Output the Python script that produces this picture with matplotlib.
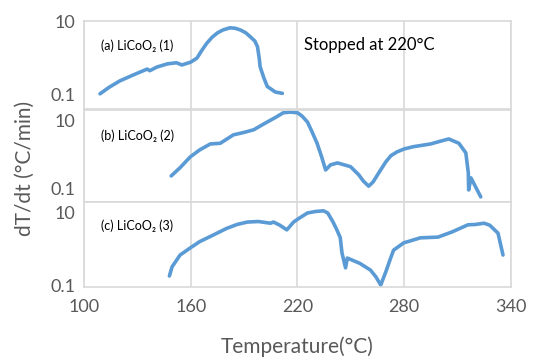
import numpy as np
import matplotlib
matplotlib.use('Agg')
import matplotlib.pyplot as plt

plt.rcParams['font.family'] = ['Lato', 'DejaVu Sans']

# (a) LiCoO2 (1): stopped at 220 C
t_a = [109, 114, 120, 127, 135.5, 137, 141, 147, 152, 155, 160, 163.5, 166,
       169, 172, 175, 178, 182, 185, 188, 191, 193.5, 196, 197.5, 198.5, 199,
       201, 203, 207.5, 211.5]
r_a = [0.107, 0.16, 0.24, 0.34, 0.51, 0.46, 0.58, 0.71, 0.76, 0.66, 0.79,
       1.02, 1.6, 2.6, 3.8, 5.0, 6.0, 6.9, 6.7, 6.0, 5.0, 3.9, 3.0, 2.1, 1.0,
       0.59, 0.3, 0.17, 0.12, 0.11]

# (b) LiCoO2 (2)
t_b = [149, 154, 159.7, 165, 171, 176.6, 184, 190, 195.4, 202, 208, 212, 216,
       220, 222.5, 225.6, 228, 231, 233.5, 235.8, 238.6, 242.5, 249.8, 254.4,
       257, 260, 262.5, 265, 269.6, 272.5, 276, 280, 285, 294.8, 300, 305,
       310.7, 314.6, 316, 316.2, 317.5, 323]
r_b = [0.24, 0.42, 0.87, 1.4, 2.1, 2.2, 3.9, 4.6, 5.5, 8.7, 13, 17.4, 18.2,
       17.4, 14, 9.3, 5, 2.2, 0.9, 0.36, 0.51, 0.58, 0.45, 0.26, 0.17, 0.12,
       0.16, 0.26, 0.62, 0.95, 1.23, 1.5, 1.74, 2.1, 2.5, 2.95, 2.2, 1.15,
       0.30, 0.093, 0.21, 0.058]

# (c) LiCoO2 (3)
t_c = [148, 149.5, 154, 159.7, 165, 172.7, 180, 186, 191.8, 198, 204.8, 206.5,
       210, 214, 217.8, 221, 225.6, 230, 234.6, 237, 240, 242, 244, 245, 247,
       248, 255, 261, 264, 266.8, 269.6, 272, 274, 279.7, 289, 299, 307,
       315.8, 320, 324.8, 328, 332.7, 335.5]
r_c = [0.178, 0.32, 0.68, 1.07, 1.6, 2.45, 3.7, 4.8, 5.6, 5.8, 5.2, 5.6, 4.6,
       3.4, 5.6, 7.2, 10, 11, 11.5, 10, 5.6, 3.5, 2.1, 0.78, 0.30, 0.56,
       0.40, 0.26, 0.17, 0.10, 0.23, 0.5, 0.93, 1.48, 2.04, 2.14, 3.0, 4.7,
       4.8, 5.2, 4.6, 2.75, 0.68]

labels = ['(a) LiCoO₂ (1)', '(b) LiCoO₂ (2)', '(c) LiCoO₂ (3)']
xticks = [100, 160, 220, 280, 340]

W, H = 537, 360
fig = plt.figure(figsize=(W / 100, H / 100), dpi=100)

# panel boxes in pixels: (top, bottom), and y limits
panels = [
    ((21, 109), (0.041, 10.6), t_a, r_a),
    ((110, 202), (0.041, 21.0), t_b, r_b),
    ((202, 287), (0.088, 20.2), t_c, r_c),
]
left, right = 84, 511
line_col = '#5B9BD5'
grid_col = '#D9D9D9'
text_col = '#595959'

for i, ((top, bot), ylim, t, r) in enumerate(panels):
    ax = fig.add_axes([left / W, 1 - bot / H, (right - left) / W, (bot - top) / H])
    ax.plot(t, r, color=line_col, lw=2.6, solid_capstyle='round',
            solid_joinstyle='round')
    ax.set_yscale('log')
    ax.set_ylim(*ylim)
    ax.set_xlim(100, 340)
    ax.set_xticks(xticks)
    ax.set_yticks([0.1, 10])
    ax.set_yticklabels(['0.1', '10'])
    ax.yaxis.set_minor_locator(matplotlib.ticker.NullLocator())
    ax.tick_params(length=0, labelsize=13, colors=text_col, pad=6)
    ax.grid(True, axis='x', color=grid_col, lw=1.2)
    ax.set_axisbelow(True)
    for s in ax.spines.values():
        s.set_color(grid_col)
        s.set_linewidth(1.2)
    if i < 2:
        ax.tick_params(labelbottom=False)
    else:
        ax.tick_params(axis='x', pad=9)
    ax.text(0.04, 0.72, labels[i], transform=ax.transAxes, fontsize=9,
            color='black', va='center')
    if i == 0:
        ax.text(0.515, 0.73, 'Stopped at 220°C', transform=ax.transAxes,
                fontsize=12, color='black', va='center')

fig.text(297 / W, 1 - 347 / H, 'Temperature(°C)', ha='center', va='center',
         fontsize=15, color=text_col)
fig.text(25 / W, 1 - 168 / H, 'dT/dt (°C/min)', ha='center', va='center',
         rotation=90, fontsize=15, color=text_col)

fig.savefig('out.png', dpi=100)
